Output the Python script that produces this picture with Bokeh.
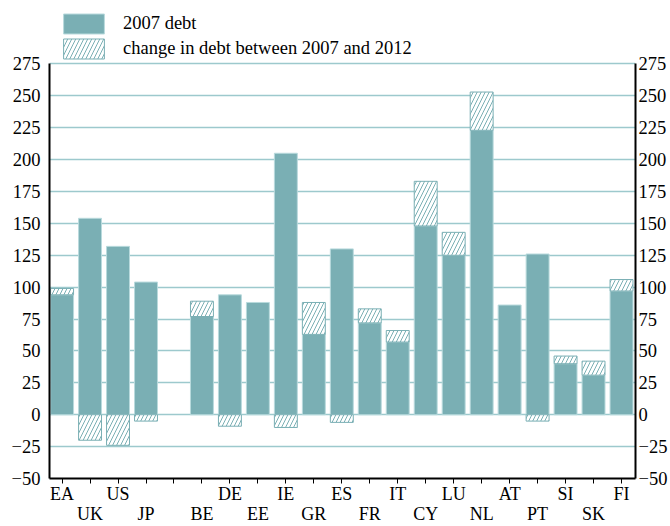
from bokeh.plotting import figure
from bokeh.models import (ColumnDataSource, LinearAxis, FixedTicker, Legend, LegendItem,
                          Range1d)
from bokeh.embed import file_html
from bokeh.resources import INLINE

# ---- data ----
categories = ["EA", "UK", "US", "JP", "", "BE", "DE", "EE", "IE", "GR", "ES",
              "FR", "IT", "CY", "LU", "NL", "AT", "PT", "SI", "SK", "FI"]
debt_2007 = [94, 154, 132, 104, None, 77, 94, 88, 205, 63, 130,
             72, 57, 148, 125, 223, 86, 126, 40, 31, 97]
change_2007_2012 = [5, -20, -24, -5, None, 12, -9, 0, -10, 25, -6,
                    11, 9, 35, 18, 30, 0, -5, 6, 11, 9]
y_ticks = [-50, -25, 0, 25, 50, 75, 100, 125, 150, 175, 200, 225, 250, 275]

FONT = "Liberation Serif"
TEAL = "#7aafb4"
GRID = "#9dc9cd"
EDGE = "#b9dadd"

Y_MIN, Y_MAX = y_ticks[0], y_ticks[-1]
FRAME_H = 482                      # frame spans the legend strip too
PX_PER_UNIT = 418 / (Y_MAX - Y_MIN)
Y_TOP = Y_MIN + FRAME_H / PX_PER_UNIT   # room above 275 for the legend

idx = [i for i, c in enumerate(categories) if c]
solid = ColumnDataSource(dict(x=idx, top=[debt_2007[i] for i in idx]))

hx, hb, ht = [], [], []
for i in idx:
    d, c = debt_2007[i], change_2007_2012[i]
    if c == 0:
        continue
    hx.append(i)
    if c > 0:
        hb.append(d)
        ht.append(d + c)
    else:
        hb.append(c)
        ht.append(0)
hatch = ColumnDataSource(dict(x=hx, bottom=hb, top=ht))

p = figure(width=670, height=526, output_backend="svg",
           toolbar_location=None, x_range=Range1d(-0.45, 20.5),
           y_range=Range1d(Y_MIN, Y_TOP),
           min_border_left=49, min_border_right=33,
           min_border_top=0, min_border_bottom=44)
p.outline_line_color = None
p.background_fill_color = "white"
p.xaxis.visible = False
p.yaxis.visible = False
p.below = []
p.left = []

r1 = p.vbar(x="x", top="top", bottom=0, width=0.82, source=solid,
            fill_color=TEAL, line_color=EDGE, line_width=1)
r2 = p.vbar(x="x", top="top", bottom="bottom", width=0.82, source=hatch,
            fill_color="white", line_color=TEAL, line_width=1,
            hatch_pattern="/", hatch_color=TEAL, hatch_scale=8, hatch_weight=1)

# y axes
for side in ("left", "right"):
    ax = LinearAxis(ticker=FixedTicker(ticks=y_ticks), bounds=(Y_MIN, Y_MAX))
    ax.axis_line_width = 2
    ax.axis_line_color = "black"
    ax.major_tick_in = 0
    ax.major_tick_out = 0
    ax.minor_tick_line_color = None
    ax.major_label_text_font = FONT
    ax.major_label_text_font_size = "18.5px"
    ax.major_label_text_color = "black"
    ax.major_label_standoff = 9 if side == "left" else 3
    p.add_layout(ax, side)

# x axes (two rows of labels)
ticks = list(range(len(categories)))
row1 = {i: (categories[i] if i % 2 == 0 else "") for i in ticks}
row2 = {i: (categories[i] if i % 2 == 1 else "") for i in ticks}

xa1 = LinearAxis(ticker=FixedTicker(ticks=ticks), major_label_overrides=row1)
xa1.axis_line_width = 2
xa1.axis_line_color = "black"
xa1.major_tick_in = 0
xa1.major_tick_out = 5
xa1.major_tick_line_color = "black"
xa1.minor_tick_line_color = None
xa1.major_label_standoff = 0
xa1.major_label_text_font = FONT
xa1.major_label_text_font_size = "18px"
xa1.major_label_text_color = "black"
p.add_layout(xa1, "below")

xa2 = LinearAxis(ticker=FixedTicker(ticks=ticks), major_label_overrides=row2)
xa2.axis_line_color = None
xa2.major_tick_line_color = None
xa2.minor_tick_line_color = None
xa2.major_tick_out = 0
xa2.major_label_standoff = -3
xa2.major_label_text_font = FONT
xa2.major_label_text_font_size = "18px"
xa2.major_label_text_color = "black"
p.add_layout(xa2, "below")

# grid
p.xgrid.visible = False
p.ygrid.ticker = FixedTicker(ticks=y_ticks)
p.ygrid.grid_line_color = GRID
p.ygrid.grid_line_width = 1.5

legend = Legend(items=[LegendItem(label="2007 debt", renderers=[r1]),
                       LegendItem(label="change in debt between 2007 and 2012", renderers=[r2])],
                location=(9, 417), orientation="vertical")
legend.label_text_font = FONT
legend.label_text_font_size = "18.5px"
legend.label_text_color = "black"
legend.glyph_width = 51
legend.glyph_height = 25
legend.spacing = 0
legend.label_standoff = 14
legend.padding = 5
legend.margin = 0
legend.border_line_color = None
legend.background_fill_alpha = 0
legend.label_height = 25
p.add_layout(legend, "center")

open("out.html", "w").write(file_html(p, INLINE))
